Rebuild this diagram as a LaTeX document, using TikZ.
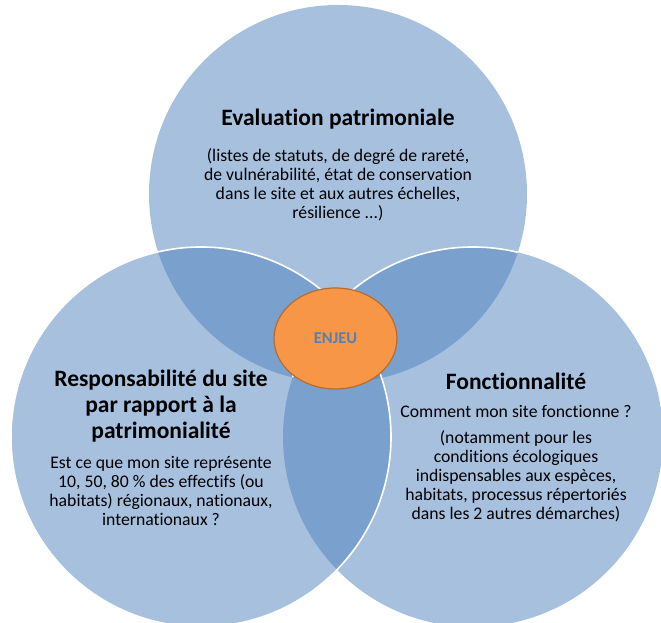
\documentclass[tikz,border=0pt]{standalone}
\usepackage{fontspec}
\setmainfont{Carlito}[Ligatures=NoCommon]
\usetikzlibrary{shapes.geometric, positioning}

\definecolor{vennblue}{RGB}{79,129,189}
\definecolor{enjeuorange}{RGB}{247,150,70}
\definecolor{enjeuline}{RGB}{182,108,46}

\begin{document}
\begin{tikzpicture}[
    x=1pt, y=1pt,
    venn/.style={circle, fill=vennblue, fill opacity=0.5, inner sep=0pt, minimum size=380pt},
    rim/.style={draw=white, line width=1.6pt},
    heading/.style={align=center, inner sep=0pt, font=\bfseries\fontsize{23.5}{26}\selectfont},
    body/.style={align=center, inner sep=0pt, font=\fontsize{17.7}{19}\selectfont},
    core/.style={ellipse, draw=enjeuline, line width=1.2pt, fill=enjeuorange, minimum width=123pt, minimum height=101pt, font=\bfseries\fontsize{16.5}{18}\selectfont, text=vennblue}
]
\useasboundingbox (0,0) rectangle (661,623);
\clip (0,0) rectangle (661,623);

% Circles
\node (evalc) [venn, minimum size=378pt] at (338,429) {};
\node (fonctc) [venn] at (473,186) {};
\node (respc) [venn] at (201,186) {};

% White rims
\begin{scope}
  \clip (evalc.center) circle (189);
  \draw [rim] (fonctc.center) circle (190);
\end{scope}
\draw [rim] (respc.center) circle (190);

% Texts
\node (evaltitle) [heading] at (338,504) {Evaluation patrimoniale};
\node (evaltext) [body, below=19pt of evaltitle] {(listes de statuts, de degré de rareté,\\de vulnérabilité, état de conservation\\dans le site et aux autres échelles,\\résilience ...)};

\node (resptitle) [heading] at (161,217) {Responsabilité du site\\par rapport à la\\patrimonialité};
\node (resptext) [body, below=14pt of resptitle] {Est ce que mon site représente\\10, 50, 80 \% des effectifs (ou\\habitats) régionaux, nationaux,\\internationaux ?};

\node (foncttitle) [heading] at (516,242) {Fonctionnalité};
\node (fonctquestion) [body, below=16pt of foncttitle] {Comment mon site fonctionne ?};
\node (foncttext) [body, below=12pt of fonctquestion] {(notamment pour les\\conditions écologiques\\indispensables aux espèces,\\habitats, processus répertoriés\\dans les 2 autres démarches)};

% Centre
\node (enjeu) [core] at (335.5,284.5) {ENJEU};

\end{tikzpicture}
\end{document}
